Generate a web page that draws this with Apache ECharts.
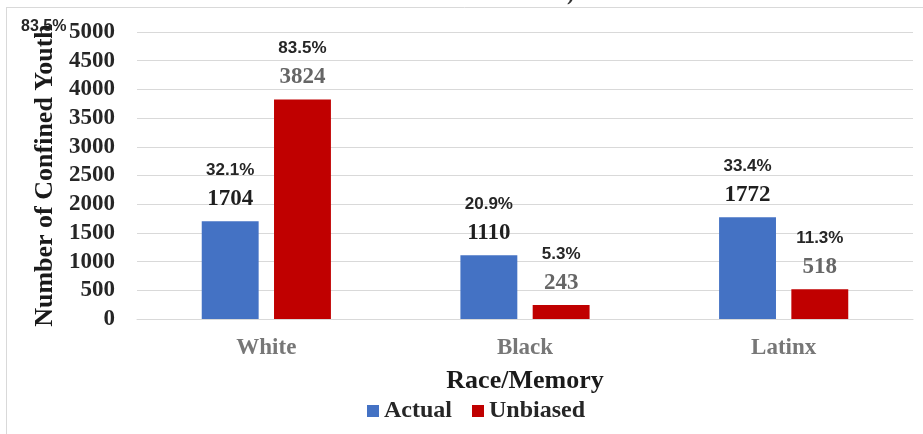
<!DOCTYPE html>
<html>
<head>
<meta charset="utf-8">
<script src="https://cdn.jsdelivr.net/npm/echarts@6/dist/echarts.min.js"></script>
<style>
  html, body { margin: 0; padding: 0; background: #fff; }
  #chart { width: 923px; height: 434px; }
</style>
</head>
<body>
<div id="chart"></div>
<script>
// Confined youth by race: actual counts vs. an unbiased allocation
const categories = ['White', 'Black', 'Latinx'];
const seriesNames = ['Actual', 'Unbiased'];
const actualValues = [1704, 1110, 1772];
const unbiasedValues = [3824, 243, 518];
const actualShares = ['32.1%', '20.9%', '33.4%'];
const unbiasedShares = ['83.5%', '5.3%', '11.3%'];
const strayShareLabel = '83.5%';

const yMin = 0, yMax = 5000, yStep = 500;

const serif = '"Liberation Serif", "Times New Roman", serif';
const sans = '"Liberation Sans", Arial, sans-serif';
const gridColor = '#d9d9d9';

function makeLabel(shares, valueColor) {
  return {
    show: true,
    position: 'top',
    distance: 10,
    formatter: p => '{p|' + shares[p.dataIndex] + '}\n{v|' + p.value + '}',
    rich: {
      p: { fontFamily: sans, fontWeight: 'bold', fontSize: 17, color: '#262626', lineHeight: 34, align: 'center' },
      v: { fontFamily: serif, fontWeight: 'bold', fontSize: 23, color: valueColor, lineHeight: 24, align: 'center' }
    }
  };
}

const chart = echarts.init(document.getElementById('chart'));
chart.setOption({
  animation: false,
  backgroundColor: '#fff',
  grid: { left: 137, right: 10, top: 32, bottom: 115, containLabel: false },
  legend: {
    data: seriesNames,
    top: 394,
    left: 362,
    icon: 'rect',
    itemWidth: 12,
    itemHeight: 12,
    itemGap: 20,
    textStyle: { fontFamily: serif, fontWeight: 'bold', fontSize: 24, color: '#262626' }
  },
  xAxis: {
    type: 'category',
    data: categories,
    name: 'Race/Memory',
    nameLocation: 'middle',
    nameGap: 49,
    nameTextStyle: { fontFamily: serif, fontWeight: 'bold', fontSize: 26, color: '#1a1a1a' },
    axisLine: { lineStyle: { color: gridColor } },
    axisTick: { show: false },
    axisLabel: { fontFamily: serif, fontWeight: 'bold', fontSize: 23, color: '#777', margin: 18 }
  },
  yAxis: {
    type: 'value',
    min: yMin,
    max: yMax,
    interval: yStep,
    name: 'Number of Confined Youth',
    nameLocation: 'middle',
    nameGap: 77,
    nameTextStyle: { fontFamily: serif, fontWeight: 'bold', fontSize: 26, color: '#1a1a1a' },
    axisLine: { show: false },
    axisTick: { show: false },
    axisLabel: {
      fontFamily: serif, fontWeight: 'bold', fontSize: 23, color: '#262626', margin: 22,
      formatter: v => String(v)
    },
    splitLine: { lineStyle: { color: gridColor, width: 1 } }
  },
  series: [
    {
      name: seriesNames[0],
      type: 'bar',
      data: actualValues,
      barWidth: '22%',
      barGap: '27%',
      itemStyle: { color: '#4472C4' },
      label: makeLabel(actualShares, '#1f1f1f')
    },
    {
      name: seriesNames[1],
      type: 'bar',
      data: unbiasedValues,
      barWidth: '22%',
      itemStyle: { color: '#C00000' },
      label: makeLabel(unbiasedShares, '#666')
    }
  ],
  graphic: [
    // outer frame edges
    { type: 'line', shape: { x1: 6, y1: 7.5, x2: 923, y2: 7.5 }, style: { stroke: gridColor, lineWidth: 1 }, silent: true },
    { type: 'line', shape: { x1: 6.5, y1: 7, x2: 6.5, y2: 434 }, style: { stroke: gridColor, lineWidth: 1 }, silent: true },
    // clipped end of the heading above the frame
    { type: 'text', left: 567, top: -17, style: { text: ')', fontFamily: serif, fontWeight: 'bold', fontSize: 22, fill: '#333' }, silent: true },
    // detached share label near the axis top
    { type: 'text', left: 21, top: 19, z: 10, style: { text: strayShareLabel, fontFamily: sans, fontWeight: 'bold', fontSize: 16, fill: '#262626' }, silent: true }
  ]
});
</script>
</body>
</html>
